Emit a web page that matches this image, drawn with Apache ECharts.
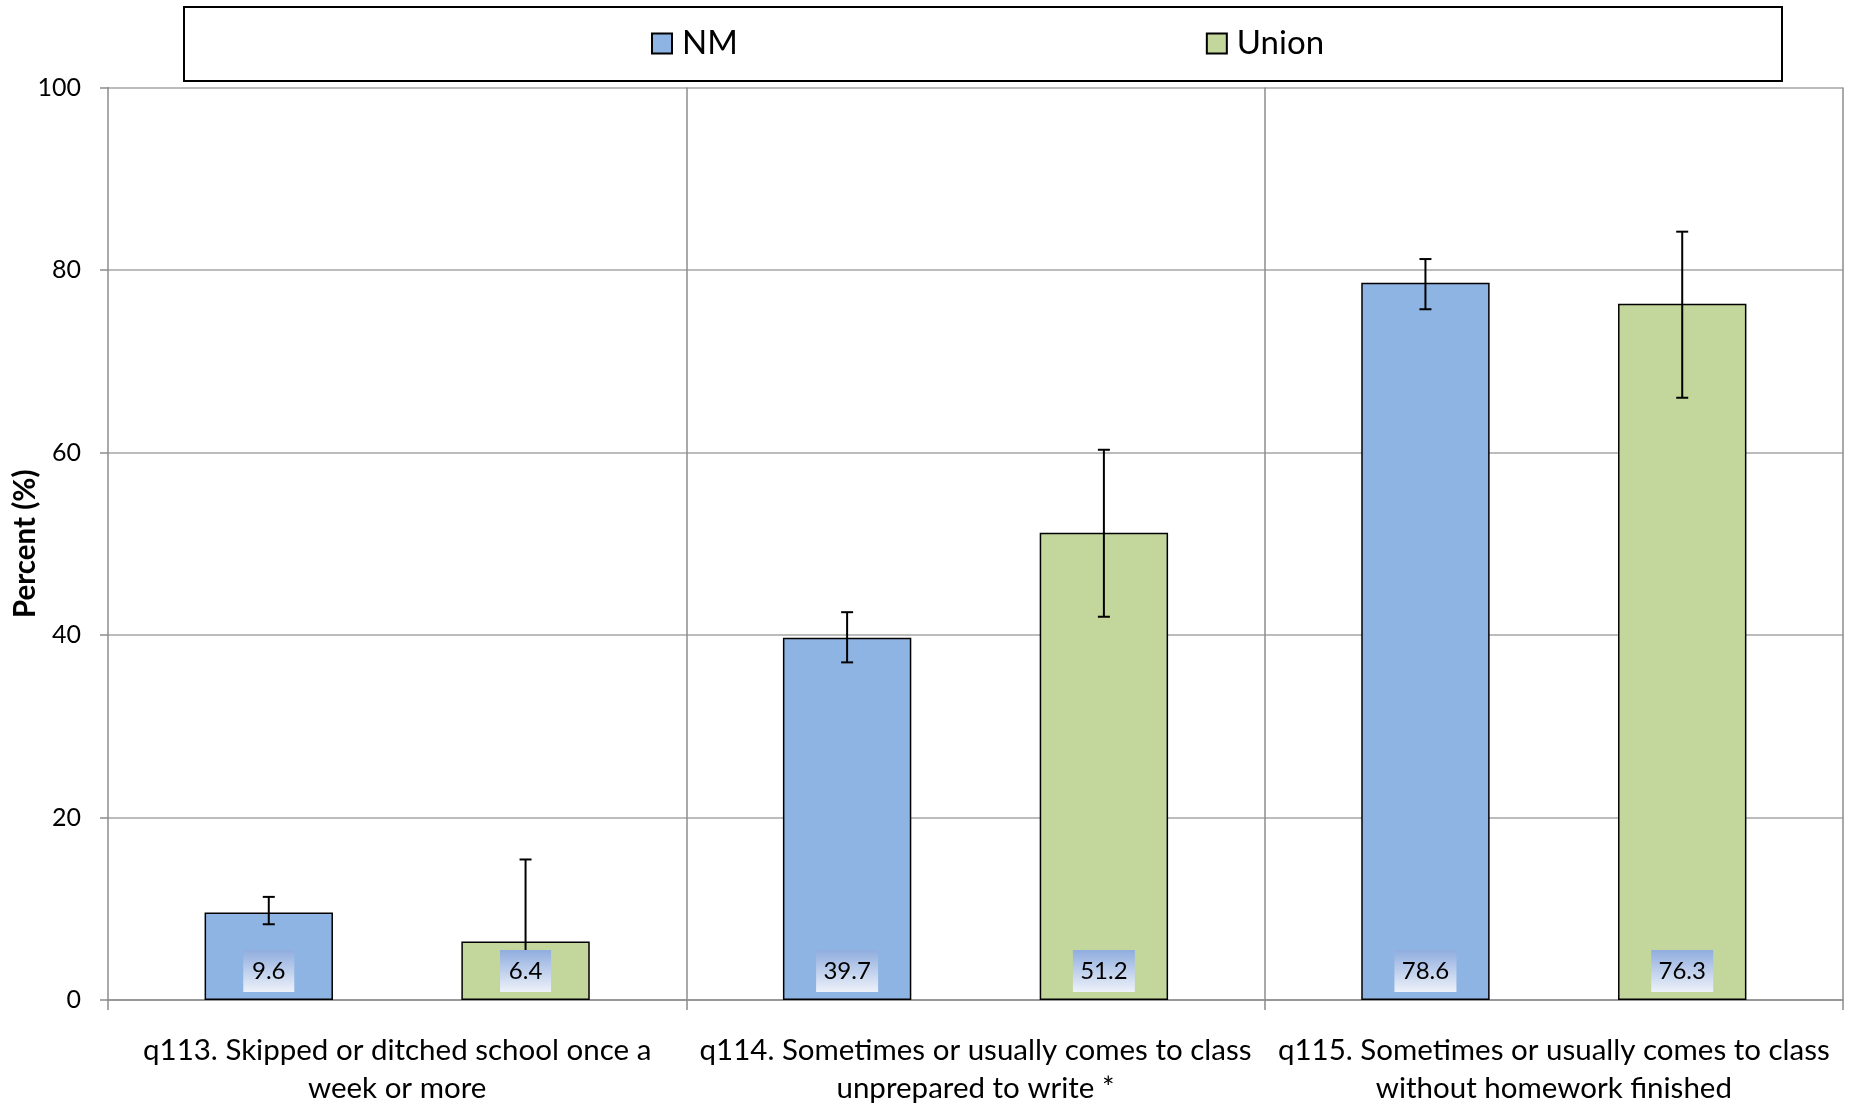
<!DOCTYPE html>
<html>
<head>
<meta charset="utf-8">
<script src="https://cdn.jsdelivr.net/npm/echarts@6/dist/echarts.min.js"></script>
<style>
html,body{margin:0;padding:0;background:#fff;}
#chart{width:1855px;height:1105px;}
</style>
</head>
<body>
<div id="chart"></div>
<script>
const categories = [
  'q113. Skipped or ditched school once a\nweek or more',
  'q114. Sometimes or usually comes to class\nunprepared to write *',
  'q115. Sometimes or usually comes to class\nwithout homework finished'
];
const seriesNames = ['NM', 'Union'];
const nmValues = [9.6, 39.7, 78.6];
const unionValues = [6.4, 51.2, 76.3];
const nmLow = [8.3, 37.0, 75.7];
const nmHigh = [11.3, 42.5, 81.2];
const unionLow = [2.3, 42.0, 66.0];
const unionHigh = [15.4, 60.3, 84.2];
const yTicks = [0, 20, 40, 60, 80, 100];

const FONT = 'Lato';
const colors = ['#8eb4e3', '#c3d69b'];
const catGap = 0.334;
const barFrac = (1 - catGap) / 3; // bar width fraction of category

function errData(vals, lows, highs, sIdx) {
  return vals.map((v, i) => [i, lows[i], highs[i], v, sIdx]);
}

function errRender(params, api) {
  const idx = api.value(0);
  const sIdx = api.value(4);
  const catW = api.size([1, 0])[0];
  const off = (sIdx === 0 ? -1 : 1) * catW * barFrac;
  const lo = api.coord([idx, api.value(1)]);
  const hi = api.coord([idx, api.value(2)]);
  const x = lo[0] + off;
  const cap = 6;
  const style = { stroke: '#000', lineWidth: 2 };
  return {
    type: 'group',
    children: [
      { type: 'line', shape: { x1: x, y1: lo[1], x2: x, y2: hi[1] }, style },
      { type: 'line', shape: { x1: x - cap, y1: hi[1], x2: x + cap, y2: hi[1] }, style },
      { type: 'line', shape: { x1: x - cap, y1: lo[1], x2: x + cap, y2: lo[1] }, style }
    ]
  };
}

function labelRender(params, api) {
  const idx = api.value(0);
  const sIdx = api.value(2);
  const val = api.value(1);
  const catW = api.size([1, 0])[0];
  const off = (sIdx === 0 ? -1 : 1) * catW * barFrac;
  const base = api.coord([idx, 0]);
  const x = base[0] + off;
  const txt = val.toFixed(1);
  const w = txt.length > 3 ? 62 : 51;
  const h = 42;
  const bottom = base[1] - 8;
  return {
    type: 'group',
    children: [
      {
        type: 'rect',
        shape: { x: x - w / 2, y: bottom - h, width: w, height: h },
        style: {
          fill: new echarts.graphic.LinearGradient(0, 0, 0, 1, [
            { offset: 0, color: '#8fadde' },
            { offset: 1, color: '#eef2fa' }
          ])
        }
      },
      {
        type: 'text',
        style: {
          text: txt, x: x, y: bottom - h / 2,
          align: 'center', verticalAlign: 'middle',
          font: '24px ' + FONT, fill: '#000'
        }
      }
    ]
  };
}

const chart = echarts.init(document.getElementById('chart'));
chart.setOption({
  animation: false,
  backgroundColor: '#fff',
  textStyle: { fontFamily: FONT },
  graphic: [{
    type: 'rect', left: 183, top: 6, z: -1,
    shape: { width: 1598, height: 74 },
    style: { fill: '#fff', stroke: '#000', lineWidth: 2 }
  }],
  legend: {
    data: seriesNames,
    left: 646, top: 22,
    itemWidth: 20, itemHeight: 20, itemGap: 468,
    icon: 'rect',
    textStyle: { fontSize: 33, color: '#000', fontFamily: FONT, padding: [0, 0, 0, 5] }
  },
  grid: { left: 108, right: 12, top: 87.5, bottom: 105, containLabel: false, outerBoundsMode: 'none' },
  xAxis: {
    type: 'category',
    data: categories,
    boundaryGap: true,
    axisLine: { show: true, lineStyle: { color: '#8c8c8c', width: 1.5 } },
    axisTick: { show: true, length: 10, lineStyle: { color: '#8c8c8c', width: 1.5 } },
    splitLine: { show: true, showMinLine: false, lineStyle: { color: '#8c8c8c', width: 1.5 } },
    axisLabel: { fontSize: 29.5, color: '#000', lineHeight: 38, margin: 31, fontFamily: FONT, interval: 0 }
  },
  yAxis: {
    type: 'value',
    min: 0, max: 100, interval: 20,
    name: 'Percent (%)',
    nameLocation: 'middle',
    nameGap: 68,
    nameMoveOverlap: false,
    nameTextStyle: { fontSize: 29.5, fontWeight: 'bold', color: '#000', fontFamily: FONT },
    axisLine: { show: true, lineStyle: { color: '#8c8c8c', width: 1.5 } },
    axisTick: { show: true, length: 8, lineStyle: { color: '#8c8c8c', width: 1.5 } },
    splitLine: { show: true, lineStyle: { color: '#a6a6a6', width: 1.5 } },
    axisLabel: {
      fontSize: 25, color: '#000', margin: 27, fontFamily: FONT,
      formatter: v => (yTicks.indexOf(v) >= 0 ? String(v) : '')
    }
  },
  series: [
    {
      name: 'NM', type: 'bar', data: nmValues, z: 2,
      barGap: '100%', barCategoryGap: (catGap * 100) + '%',
      itemStyle: { color: colors[0], borderColor: '#000', borderWidth: 1.5 }
    },
    {
      name: 'Union', type: 'bar', data: unionValues, z: 2,
      barGap: '100%', barCategoryGap: (catGap * 100) + '%',
      itemStyle: { color: colors[1], borderColor: '#000', borderWidth: 1.5 }
    },
    {
      name: 'errNM', type: 'custom', z: 3, renderItem: errRender,
      data: errData(nmValues, nmLow, nmHigh, 0), encode: { x: 0, y: [1, 2] }
    },
    {
      name: 'errUnion', type: 'custom', z: 3, renderItem: errRender,
      data: errData(unionValues, unionLow, unionHigh, 1), encode: { x: 0, y: [1, 2] }
    },
    {
      name: 'lblNM', type: 'custom', z: 4, renderItem: labelRender,
      data: nmValues.map((v, i) => [i, v, 0]), encode: { x: 0, y: 1 }
    },
    {
      name: 'lblUnion', type: 'custom', z: 4, renderItem: labelRender,
      data: unionValues.map((v, i) => [i, v, 1]), encode: { x: 0, y: 1 }
    }
  ]
});
</script>
</body>
</html>
